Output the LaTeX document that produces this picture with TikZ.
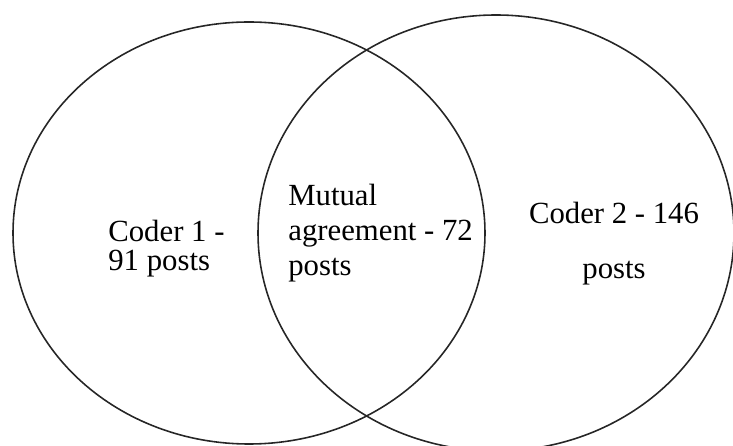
\documentclass[tikz,border=0pt]{standalone}
\usepackage{fontspec}
\setmainfont{Liberation Serif}
\usepackage{tikz}

\tikzset{
  conjunto/.style={line width=0.9pt, draw=black!85},
  etiqueta/.style={inner sep=0pt, anchor=base west, font=\fontsize{17.5}{21}\selectfont}
}

\begin{document}
\begin{tikzpicture}

\useasboundingbox (0,0) rectangle (14.66,8.92);
\clip (0,0) rectangle (14.66,8.92);

\draw[conjunto] (4.98,4.26) ellipse (4.72 and 4.22);  % Coder 1
\draw[conjunto] (9.92,4.26) ellipse (4.76 and 4.36);  % Coder 2

% solo Coder 1
\node[etiqueta] (coder1a) at (2.16,4.08) {Coder 1 -};
\node[etiqueta] (coder1b) at (2.16,3.50) {91 posts};

% interseccion
\node[etiqueta] (mutualA) at (5.76,4.80) {Mutual};
\node[etiqueta] (mutualB) at (5.76,4.10) {agreement - 72};
\node[etiqueta] (mutualC) at (5.76,3.40) {posts};

% solo Coder 2
\node[etiqueta, anchor=base] (coder2a) at (12.28,4.44) {Coder 2 - 146};
\node[etiqueta, anchor=base] (coder2b) at (12.28,3.34) {posts};

\end{tikzpicture}
\end{document}
